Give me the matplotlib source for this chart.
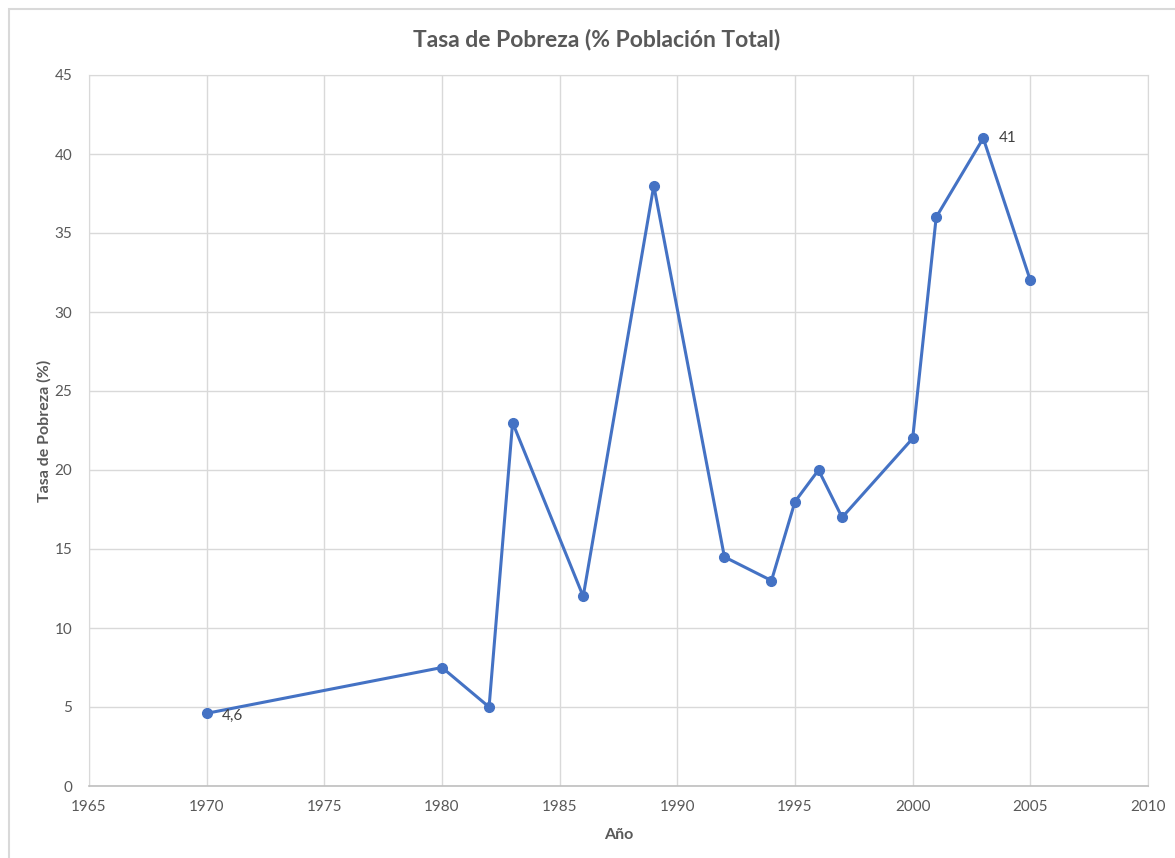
import matplotlib.pyplot as plt
from matplotlib.patches import Rectangle

# Poverty rate data
years = [1970, 1980, 1982, 1983, 1986, 1989, 1992, 1994, 1995, 1996, 1997, 2000, 2001, 2003, 2005]
rates = [4.6, 7.5, 5, 23, 12, 38, 14.5, 13, 18, 20, 17, 22, 36, 41, 32]
x_ticks = [1965, 1970, 1975, 1980, 1985, 1990, 1995, 2000, 2005, 2010]
y_ticks = [0, 5, 10, 15, 20, 25, 30, 35, 40, 45]

plt.rcParams['font.family'] = ['Lato', 'DejaVu Sans']
text_color = '#595959'
grid_color = '#d9d9d9'
line_color = '#4472c4'

fig = plt.figure(figsize=(11.75, 8.58), dpi=100)
W, H = 1175, 858

# chart border like Excel (only top and left are inside the picture)
fig.patches.append(Rectangle((8.5 / W, -0.2), 1.2, 1.2 - 9 / H, transform=fig.transFigure,
                             fill=False, edgecolor='#d9d9d9', linewidth=1.5))

ax = fig.add_axes([89 / W, 1 - 786 / H, (1148 - 89) / W, (786 - 75) / H])
ax.plot(years, rates, color=line_color, linewidth=2.2, marker='o', markersize=7, zorder=3)

ax.set_xlim(1965, 2010)
ax.set_ylim(0, 45)
ax.set_xticks(x_ticks)
ax.set_yticks(y_ticks)
ax.grid(True, color=grid_color, linewidth=1)
ax.set_axisbelow(True)
for side in ['top', 'right', 'left']:
    ax.spines[side].set_color(grid_color)
ax.spines['bottom'].set_color('#bfbfbf')
ax.spines['bottom'].set_linewidth(1.2)
ax.tick_params(length=0, colors=text_color, labelsize=11)
ax.tick_params(axis='x', pad=10)
ax.tick_params(axis='y', pad=12)

# data labels
ax.annotate('4,6', (years[0], rates[0]), xytext=(11, -2), textcoords='offset points',
            color='#404040', fontsize=11, va='center')
ax.annotate('41', (years[13], rates[13]), xytext=(11, 0), textcoords='offset points',
            color='#404040', fontsize=11, va='center')

fig.text(597 / W, 1 - 40 / H, 'Tasa de Pobreza (% Población Total)', fontsize=16.5,
         fontweight='bold', color=text_color, ha='center', va='center')
ax.set_xlabel('Año', fontsize=11.5, fontweight='bold', color=text_color, labelpad=10)
ax.set_ylabel('Tasa de Pobreza (%)', fontsize=11.5, fontweight='bold', color=text_color, labelpad=2)

fig.savefig('out.png', dpi=100)
